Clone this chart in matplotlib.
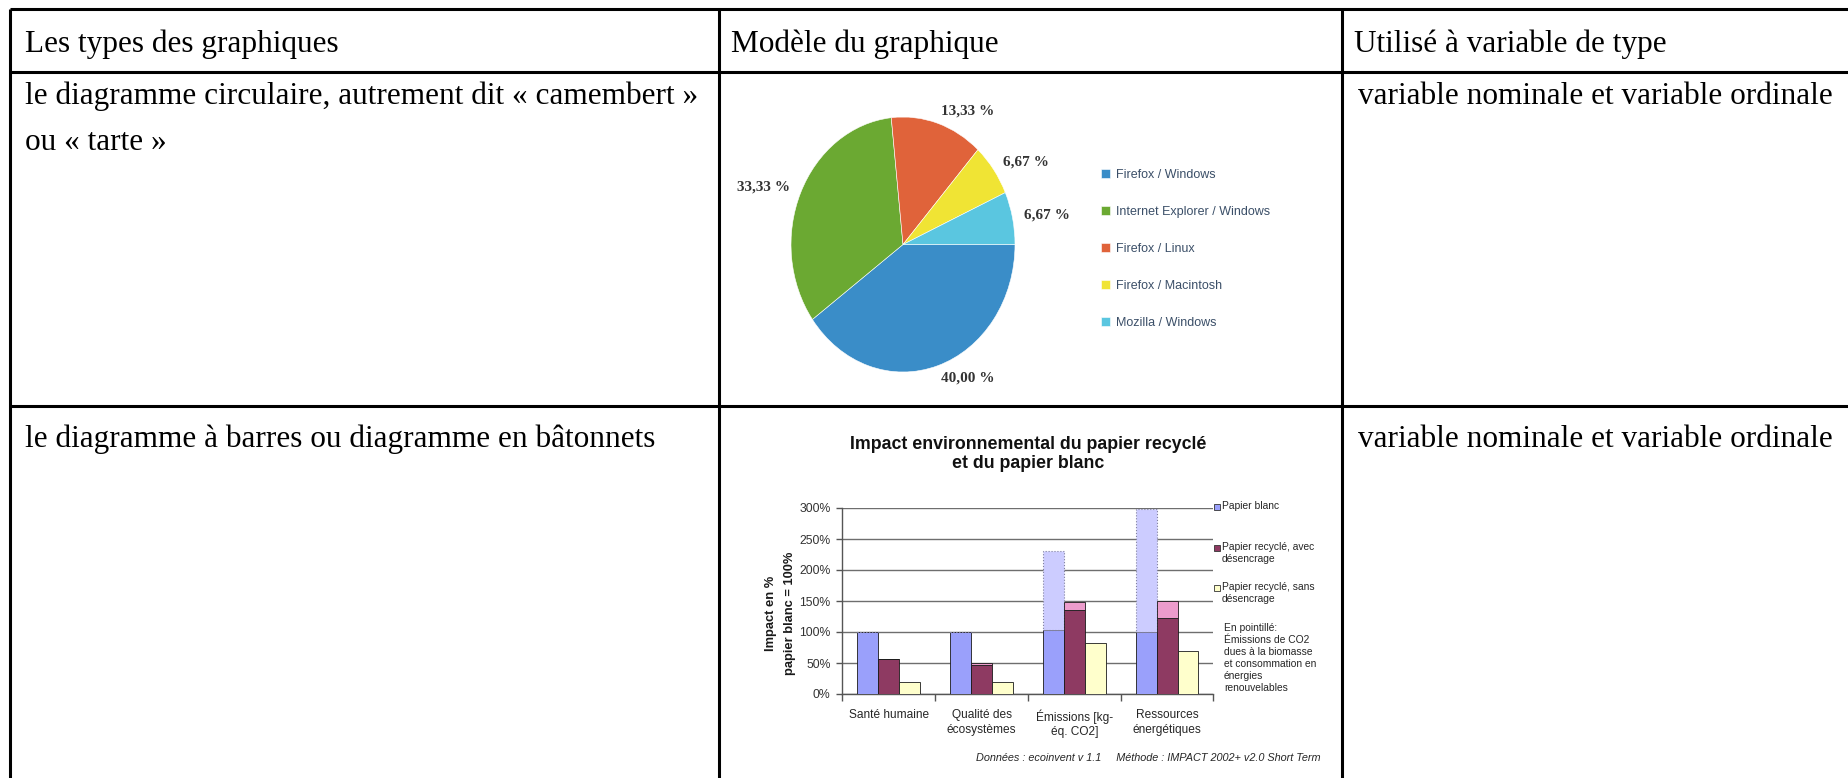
import numpy as np
import matplotlib
matplotlib.use("Agg")
import matplotlib.pyplot as plt
from matplotlib import font_manager
from matplotlib.patches import Rectangle

# ---------------- data ----------------
header_texts = ["Les types des graphiques", "Modèle du graphique", "Utilisé à variable de type"]
row_types = [["le diagramme circulaire, autrement dit « camembert »", "ou « tarte »"],
             ["le diagramme à barres ou diagramme en bâtonnets"]]
row_usage = ["variable nominale et variable ordinale",
             "variable nominale et variable ordinale"]

pie_names = ["Firefox / Windows", "Internet Explorer / Windows", "Firefox / Linux",
             "Firefox / Macintosh", "Mozilla / Windows"]
pie_values = [40.00, 33.33, 13.33, 6.67, 6.67]
pie_colors = ["#3a8dc8", "#6ba932", "#e0633a", "#f0e434", "#5ac6e0"]

bar_categories = ["Santé humaine", "Qualité des\nécosystèmes",
                  "Émissions [kg-\néq. CO2]", "Ressources\nénergétiques"]
blanc = [100, 100, 103, 100]            # papier blanc
blanc_biomass = [100, 100, 231, 298]    # incl. biomass CO2 / renewable energy (dotted)
avec = [56, 46, 135, 122]               # recyclé avec désencrage
avec_biomass = [56, 50, 148, 150]
sans = [19, 20, 83, 70]                 # recyclé sans désencrage
bar_ticks = [0, 50, 100, 150, 200, 250, 300]

# ---------------- figure ----------------
W, H, DPI = 1849, 778, 100
fig = plt.figure(figsize=(W / DPI, H / DPI), dpi=DPI)
fig.patch.set_facecolor("white")


def box(x0, y0, x1, y1):
    """Pixel box (top-down) -> figure-fraction rect."""
    return [x0 / W, 1 - y1 / H, (x1 - x0) / W, (y1 - y0) / H]


available = {f.name for f in font_manager.fontManager.ttflist}
SERIF = "Liberation Serif"
SANS = "Liberation Sans"
if "Liberation Sans Narrow" in available:
    NARROW, NARROW_SIZE = "Liberation Sans Narrow", 11
else:
    NARROW, NARROW_SIZE = "Liberation Sans", 9

bg = fig.add_axes([0, 0, 1, 1])
bg.set_xlim(0, W)
bg.set_ylim(H, 0)
bg.axis("off")

# table grid
LW = 2.2
for y in (9, 72, 406):
    bg.plot([10, W], [y, y], color="black", lw=LW, solid_capstyle="butt")
for x in (10, 719, 1342):
    bg.plot([x, x], [9, H], color="black", lw=LW, solid_capstyle="butt")

TS = 22.5
for x, t in zip((25, 731, 1354), header_texts):
    bg.text(x, 52, t, fontsize=TS, family=SERIF, va="baseline", ha="left")
bg.text(25, 104, row_types[0][0], fontsize=TS, family=SERIF, va="baseline")
bg.text(25, 150, row_types[0][1], fontsize=TS, family=SERIF, va="baseline")
bg.text(25, 447, row_types[1][0], fontsize=TS, family=SERIF, va="baseline")
bg.text(1358, 104, row_usage[0], fontsize=TS, family=SERIF, va="baseline")
bg.text(1358, 447, row_usage[1], fontsize=TS, family=SERIF, va="baseline")

# ---------------- pie chart ----------------
pax = fig.add_axes(box(791, 117, 1015, 372))
pie_labels = [f"{v:.2f}".replace(".", ",") + " %" for v in pie_values]
wedges, texts = pax.pie(pie_values, colors=pie_colors, startangle=0, counterclock=False,
                        labels=pie_labels, labeldistance=1.1,
                        wedgeprops=dict(linewidth=0.4, edgecolor="white"),
                        textprops=dict(family=SERIF, weight="bold", fontsize=11,
                                       color="#333333"))
pax.set_aspect("auto")
pax.set_xlim(-1, 1)
pax.set_ylim(-1, 1)

# legend rows are about 37 px apart
leg_px = NARROW_SIZE * DPI / 72
pax.legend(wedges, pie_names, loc="upper left",
           bbox_to_anchor=(1101 / W, 1 - 169 / H), bbox_transform=fig.transFigure,
           frameon=False, prop=dict(family=NARROW, size=NARROW_SIZE),
           labelcolor="#3b4f68", handlelength=0.75, handleheight=0.75,
           handletextpad=0.45, labelspacing=1.75 + 3.0 / leg_px,
           borderpad=0, borderaxespad=0)

# ---------------- bar chart ----------------
bx = fig.add_axes(box(842.5, 508, 1213.4, 694))
x = np.arange(len(bar_categories))
bw = 0.226
edge = dict(edgecolor="#1a1a1a", linewidth=0.6)
blanc_extra = np.array(blanc_biomass) - np.array(blanc)
avec_extra = np.array(avec_biomass) - np.array(avec)
bx.bar(x - bw, blanc, bw, color="#9aa0fb", **edge, zorder=3)
bx.bar(x - bw, blanc_extra, bw, bottom=blanc, color="#ccccff",
       edgecolor="#8080a0", linewidth=0.8, linestyle=":", zorder=3)
bx.bar(x, avec, bw, color="#8e3a62", **edge, zorder=3)
bx.bar(x, avec_extra, bw, bottom=avec, color="#ec9ccc", **edge, zorder=3)
bx.bar(x + bw, sans, bw, color="#ffffcc", **edge, zorder=3)

bx.set_xlim(-0.5, len(bar_categories) - 0.5)
bx.set_ylim(0, 300)
bx.set_yticks(bar_ticks)
bx.set_yticklabels([f"{v}%" for v in bar_ticks])
bx.yaxis.grid(True, color="#6e6e6e", lw=1.0, zorder=0)
bx.set_axisbelow(True)
bx.set_xticks(x)
bx.set_xticklabels(bar_categories, family=SANS, fontsize=8.6, color="#262626",
                   linespacing=1.25)
bx.set_xticks(np.arange(-0.5, len(bar_categories)), minor=True)
bx.tick_params(axis="x", which="major", length=0, pad=11)
bx.tick_params(axis="x", which="minor", length=5, color="#555555", width=1)
bx.tick_params(axis="y", length=4, color="#555555", width=1, pad=4.5,
               labelsize=8.8, labelcolor="#333333")
for lab in bx.get_yticklabels():
    lab.set_family(SANS)
for s in ("top", "right"):
    bx.spines[s].set_visible(False)
for s in ("left", "bottom"):
    bx.spines[s].set_color("#555555")
    bx.spines[s].set_linewidth(1)
bx.set_facecolor("white")

# y label
bg.text(771, 613, "Impact en %", rotation=90, ha="center", va="center",
        family=SANS, weight="bold", fontsize=9.3, color="#1a1a1a")
bg.text(790, 613, "papier blanc = 100%", rotation=90, ha="center", va="center",
        family=SANS, weight="bold", fontsize=9.3, color="#1a1a1a")

# title
bg.text(1028, 444, "Impact environnemental du papier recyclé", ha="center", va="center",
        family=SANS, weight="bold", fontsize=12.8, color="#111111")
bg.text(1028, 463, "et du papier blanc", ha="center", va="center",
        family=SANS, weight="bold", fontsize=12.8, color="#111111")

# legend of the bar chart
LS = 7.4
leg_items = [("#9aa0fb", 507, "Papier blanc"),
             ("#8e3a62", 548, "Papier recyclé, avec\ndésencrage"),
             ("#ffffcc", 588, "Papier recyclé, sans\ndésencrage")]
for col, y, txt in leg_items:
    bg.add_patch(Rectangle((1213.5, y - 3.3), 6.5, 6.5, facecolor=col,
                           edgecolor="#333333", lw=0.6))
    bg.text(1222, y - 6, txt, ha="left", va="top", family=SANS, fontsize=LS,
            color="#262626", linespacing=1.2)
bg.text(1224, 623, "En pointillé:\nÉmissions de CO2\ndues à la biomasse\n"
        "et consommation en\nénergies\nrenouvelables",
        ha="left", va="top", family=SANS, fontsize=LS, color="#262626",
        linespacing=1.25)

# source line
bg.text(1320, 758, "Données : ecoinvent v 1.1     Méthode : IMPACT 2002+ v2.0 Short Term",
        ha="right", va="center", family=SANS, style="italic", fontsize=7.8,
        color="#262626")

fig.savefig("out.png", dpi=DPI)
